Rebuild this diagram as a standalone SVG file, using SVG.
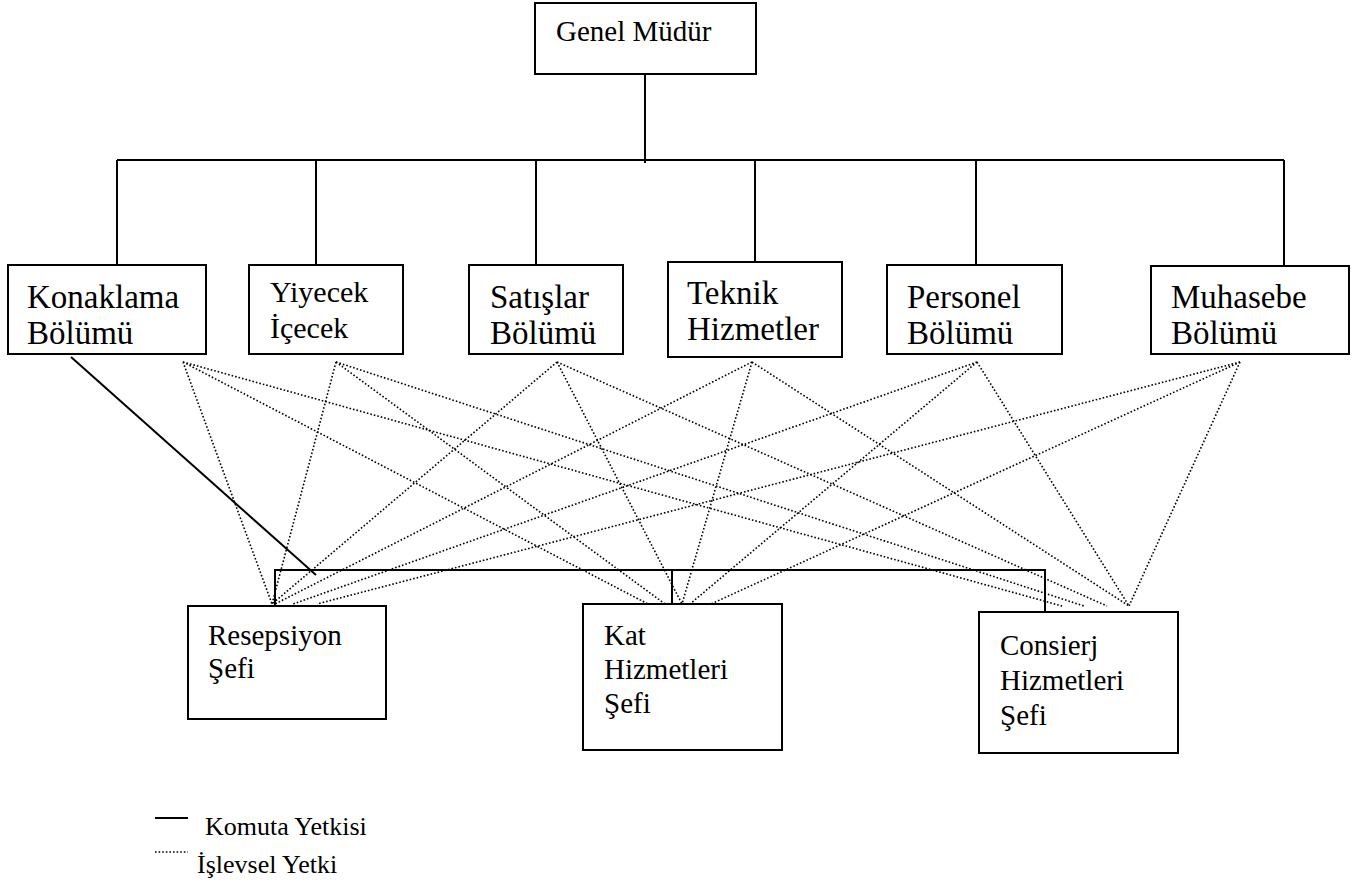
<svg xmlns="http://www.w3.org/2000/svg" width="1364" height="895" viewBox="0 0 1364 895">
  <style>
    .box { fill: #fff; stroke: #000; stroke-width: 2; }
    .solid { fill: none; stroke: #000; stroke-width: 2; }
    .dot { fill: none; stroke: #000; stroke-width: 1.6; stroke-dasharray: 1.6 2; }
    .t1 { font-size: 29px; }
    .t2 { font-size: 33px; }
    .t4 { font-size: 30px; }
    .t3 { font-size: 29px; }
    .lg { font-size: 26px; }
  </style>
  <rect width="1364" height="895" fill="#fff"/>

  <!-- command and functional authority lines -->
  <g id="connectors">
    <path class="solid" d="M645 74 V163 M117 160 H1284 M117 160 V265 M316 160 V265 M536 160 V265 M755 160 V262 M976 160 V265 M1284 160 V265"/>
    <path class="solid" d="M71 357 L316 575"/>
    <path class="solid" d="M275 606 V570 H1045 V612 M672 570 V604"/>
    <g class="dot">
      <path d="M183 362 L272 604 M183 362 L648 604 M183 362 L1062 606"/>
      <path d="M336 362 L272 604 M336 362 L665 604 M336 362 L1084 606"/>
      <path d="M557 362 L272 604 M557 362 L682 604 M557 362 L1107 606"/>
      <path d="M752 362 L275 604 M752 362 L682 604 M752 362 L1129 606"/>
      <path d="M977 362 L293 604 M977 362 L690 604 M977 362 L1129 606"/>
      <path d="M1240 362 L317 604 M1240 362 L711 604 M1240 362 L1129 606"/>
    </g>
  </g>

  <g font-family="Liberation Serif, Tinos, DejaVu Serif, serif" fill="#000">
    <g id="genel-mudur">
      <rect class="box" x="535" y="3" width="221" height="71"/>
      <text class="t1" x="556" y="41">Genel Müdür</text>
    </g>

    <g id="konaklama">
      <rect class="box" x="8" y="265" width="198" height="89"/>
      <text class="t2" x="27" y="308">Konaklama</text>
      <text class="t2" x="27" y="344">Bölümü</text>
    </g>
    <g id="yiyecek">
      <rect class="box" x="249" y="265" width="154" height="89"/>
      <text class="t4" x="270" y="302">Yiyecek</text>
      <text class="t4" x="270" y="338">İçecek</text>
    </g>
    <g id="satislar">
      <rect class="box" x="469" y="265" width="154" height="89"/>
      <text class="t2" x="490" y="308">Satışlar</text>
      <text class="t2" x="490" y="344">Bölümü</text>
    </g>
    <g id="teknik">
      <rect class="box" x="668" y="262" width="174" height="95"/>
      <text class="t2" x="687" y="304">Teknik</text>
      <text class="t2" x="687" y="340">Hizmetler</text>
    </g>
    <g id="personel">
      <rect class="box" x="887" y="265" width="175" height="89"/>
      <text class="t2" x="907" y="308">Personel</text>
      <text class="t2" x="907" y="344">Bölümü</text>
    </g>
    <g id="muhasebe">
      <rect class="box" x="1151" y="266" width="198" height="88"/>
      <text class="t2" x="1171" y="308">Muhasebe</text>
      <text class="t2" x="1171" y="344">Bölümü</text>
    </g>

    <g id="resepsiyon">
      <rect class="box" x="188" y="606" width="198" height="113"/>
      <text class="t3" x="208" y="645">Resepsiyon</text>
      <text class="t3" x="208" y="678">Şefi</text>
    </g>
    <g id="kat">
      <rect class="box" x="583" y="604" width="199" height="146"/>
      <text class="t3" x="604" y="645">Kat</text>
      <text class="t3" x="604" y="679">Hizmetleri</text>
      <text class="t3" x="604" y="713">Şefi</text>
    </g>
    <g id="consierj">
      <rect class="box" x="979" y="612" width="199" height="141"/>
      <text class="t3" x="1000" y="655">Consierj</text>
      <text class="t3" x="1000" y="690">Hizmetleri</text>
      <text class="t3" x="1000" y="725">Şefi</text>
    </g>

    <g id="legend">
      <line class="solid" x1="155" y1="818" x2="188" y2="818"/>
      <text class="lg" x="205" y="835">Komuta Yetkisi</text>
      <line class="dot" x1="155" y1="852" x2="188" y2="852"/>
      <text class="lg" x="197" y="873">İşlevsel Yetki</text>
    </g>
  </g>
</svg>
